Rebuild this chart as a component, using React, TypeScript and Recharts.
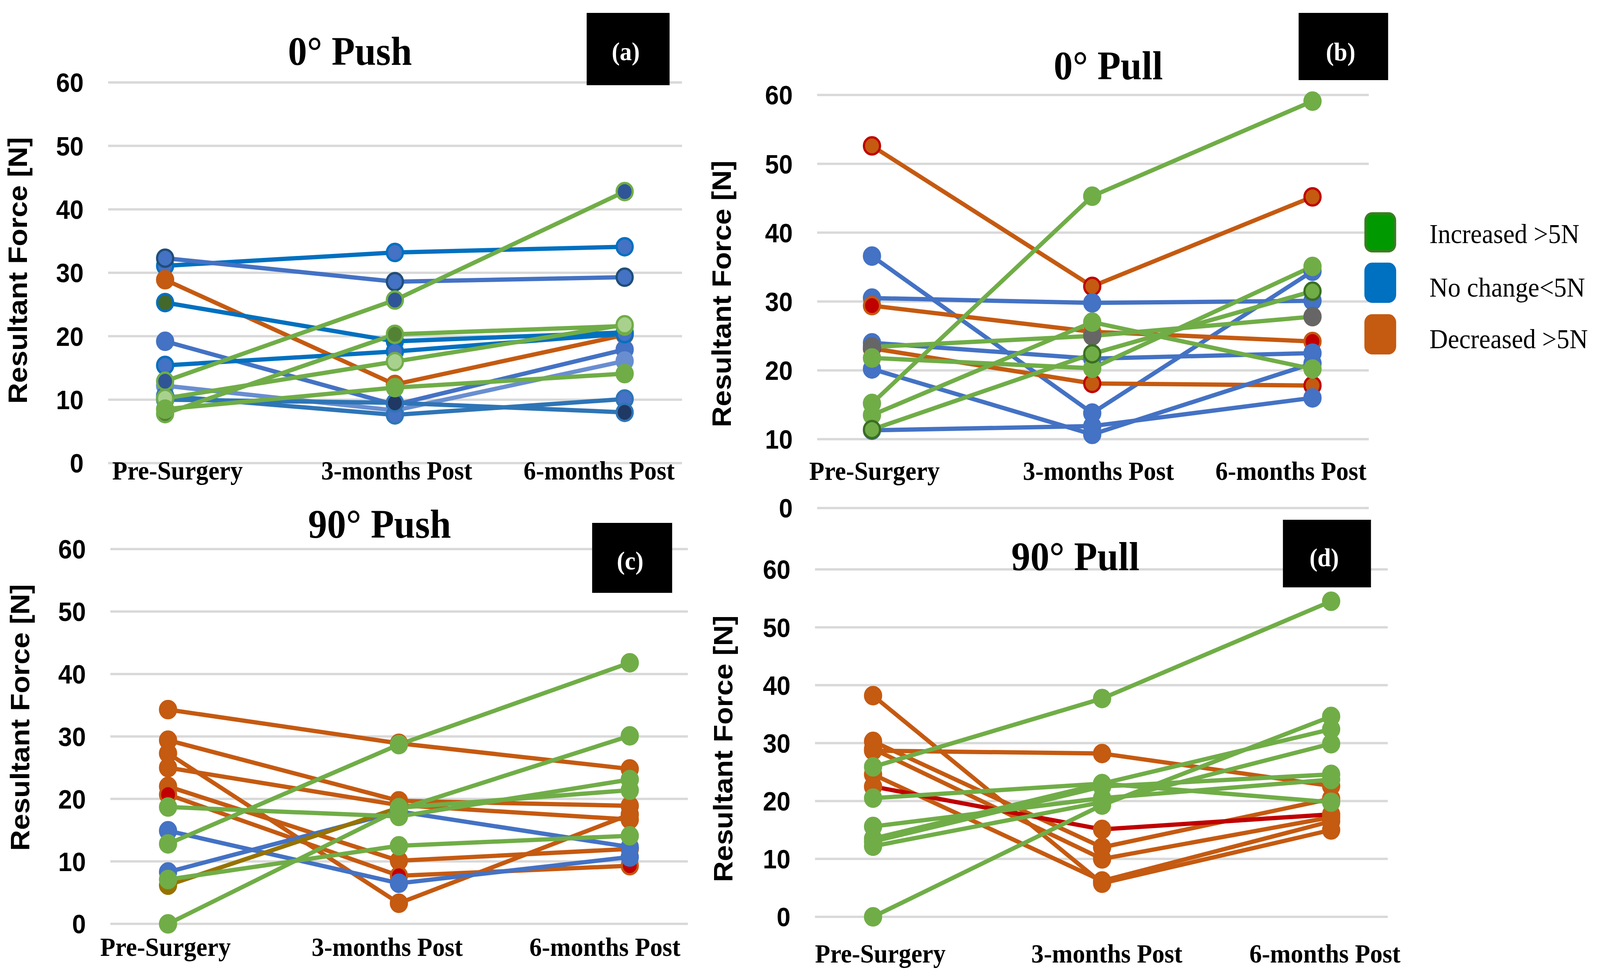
import React from 'react';
import { LineChart, Line, XAxis, YAxis, CartesianGrid } from 'recharts';

const W = 4380;
const H = 2500;

const CATEGORIES = ['Pre-Surgery', '3-months Post', '6-months Post'];
const Y_TICKS = [0, 10, 20, 30, 40, 50, 60];
const PANEL_TITLES = ['0° Push', '0° Pull', '90° Push', '90° Pull'];
const PANEL_TAGS = ['(a)', '(b)', '(c)', '(d)'];
const AXIS_TITLE = 'Resultant Force [N]';
const LEGEND_LABELS = ['Increased >5N', 'No change<5N', 'Decreased >5N'];

// one row per subject: [pre-surgery, 3 months, 6 months]
const PUSH_0 = [
  [31.1, 33.2, 34.1],
  [32.3, 28.6, 29.3],
  [28.9, 12.4, 20.2],
  [25.3, 19.2, 20.6],
  [19.2, 9.2, 17.9],
  [15.4, 17.6, 20.4],
  [12.2, 8.3, 16.1],
  [10.6, 7.6, 10.1],
  [10.0, 9.5, 8.0],
  [12.9, 25.7, 42.8],
  [7.8, 20.3, 21.6],
  [10.2, 16.0, 21.8],
  [8.5, 11.9, 14.1],
];

const PULL_0 = [
  [52.6, 32.2, 45.2],
  [36.6, 13.8, 34.4],
  [30.5, 29.8, 30.1],
  [29.4, 25.6, 24.2],
  [24.0, 21.7, 22.5],
  [23.2, 18.1, 17.8],
  [20.2, 10.7, 21.0],
  [11.3, 11.9, 16.0],
  [23.4, 25.0, 27.8],
  [21.8, 20.3, 35.1],
  [13.5, 27.0, 20.2],
  [11.4, 22.4, 31.5],
  [15.2, 45.3, 59.1],
];

const PUSH_90 = [
  [34.3, 28.9, 24.8],
  [29.4, 19.7, 18.9],
  [27.3, 3.3, 17.5],
  [25.0, 19.0, 16.7],
  [22.0, 10.1, 12.0],
  [20.7, 7.7, 9.3],
  [14.9, 6.5, 10.7],
  [8.3, 18.0, 12.3],
  [6.2, 18.6, null],
  [null, 18.6, 21.4],
  [18.7, 17.2, 23.1],
  [7.1, 12.5, 14.1],
  [12.8, 28.7, 41.8],
  [0, 18.3, 30.1],
];

const PULL_90 = [
  [38.2, 5.8, 15.0],
  [30.3, 12.0, 20.4],
  [28.7, 28.2, 22.6],
  [29.0, 10.0, 17.2],
  [24.6, 6.2, 16.5],
  [22.5, 15.1, 17.7],
  [20.5, 23.0, 19.8],
  [15.6, 20.5, 23.7],
  [13.5, 23.0, 32.4],
  [12.2, 19.8, 29.9],
  [13.0, 22.5, 24.6],
  [0, 19.3, 34.6],
  [25.9, 37.7, 54.5],
];

const BLUE = '#4472C4';
const BLUE_DK = '#0070C0';
const BLUE_MID = '#2E75B6';
const BLUE_LT = '#698ED0';
const NAVY = '#1F4E79';
const NAVY2 = '#203864';
const BLUE_FILL = '#2F5597';
const GREEN = '#70AD47';
const GREEN_LT = '#A9D18E';
const GREEN_DK = '#548235';
const GREEN_DK2 = '#43682B';
const GREEN_EDGE = '#3B6E22';
const ORANGE = '#C55A11';
const RED = '#C00000';
const GRAY = '#666666';
const OLIVE = '#977300';

type Look = { line: string; fill: string; edge: string };
const look = (line: string, fill: string = line, edge: string = fill): Look => ({ line, fill, edge });

const PUSH_0_LOOK = [
  look(BLUE_DK, BLUE, BLUE_DK),
  look(BLUE, BLUE, NAVY),
  look(ORANGE),
  look(BLUE_DK, GREEN_DK2, BLUE_DK),
  look(BLUE),
  look(BLUE_DK, BLUE, BLUE_DK),
  look(BLUE_LT),
  look(BLUE_MID, BLUE, BLUE_MID),
  look(BLUE_MID, NAVY2, BLUE_MID),
  look(GREEN, BLUE_FILL, GREEN),
  look(GREEN, GREEN_DK, GREEN),
  look(GREEN, GREEN_LT, GREEN),
  look(GREEN),
];

const PULL_0_LOOK = [
  look(ORANGE, ORANGE, RED),
  look(BLUE),
  look(BLUE),
  look(ORANGE, RED, ORANGE),
  look(BLUE),
  look(ORANGE, ORANGE, RED),
  look(BLUE),
  look(BLUE),
  look(GREEN, GRAY, GRAY),
  look(GREEN),
  look(GREEN),
  look(GREEN, GREEN, GREEN_EDGE),
  look(GREEN),
];

const PUSH_90_LOOK = [
  look(ORANGE),
  look(ORANGE),
  look(ORANGE),
  look(ORANGE),
  look(ORANGE),
  look(ORANGE, RED, ORANGE),
  look(BLUE),
  look(BLUE),
  look(OLIVE),
  look(GREEN),
  look(GREEN),
  look(GREEN),
  look(GREEN),
  look(GREEN),
];

const PULL_90_LOOK = [
  look(ORANGE),
  look(ORANGE),
  look(ORANGE),
  look(ORANGE),
  look(ORANGE),
  look(RED, ORANGE, ORANGE),
  look(GREEN),
  look(GREEN),
  look(GREEN),
  look(GREEN),
  look(GREEN),
  look(GREEN),
  look(GREEN),
];

const SANS = '"Liberation Sans", Arial, sans-serif';
const SERIF = '"Liberation Serif", "Times New Roman", serif';

type Layout = {
  left: number;
  right: number;
  top: number;
  bottom: number;
  padL: number;
  padR: number;
  labelBase: number;
  labelDx: number[];
};

const LAYOUTS: Layout[] = [
  { left: 296, right: 1867, top: 211, bottom: 1185, padL: 156, padR: 157, labelBase: 1227, labelDx: [34, 5, -70] },
  { left: 2237, right: 3747, top: 243, bottom: 1300, padL: 150, padR: 154, labelBase: 1228, labelDx: [7, 17, -59] },
  { left: 302, right: 1883, top: 1405, bottom: 2364, padL: 158, padR: 159, labelBase: 2446, labelDx: [-7, -32, -68] },
  { left: 2231, right: 3799, top: 1457, bottom: 2346, padL: 159, padR: 155, labelBase: 2463, labelDx: [20, 13, -17] },
];

const TITLE_POS = [[958, 166], [3034, 203], [1039, 1376], [2944, 1459]];
const TAG_BOX = [[1606, 33, 227, 185], [3555, 33, 245, 172], [1621, 1338, 219, 179], [3512, 1330, 241, 173]];
const TAG_TEXT = [[1713, 154], [3670, 155], [1725, 1457], [3625, 1449]];
const AXIS_TITLE_POS = [[48, 692], [1975, 752], [54, 1836], [1979, 1916]];

const LEGEND_FILL = ['#009900', '#0070C0', '#C55A11'];
const LEGEND_EDGE = ['#3B7D23', '#0070C0', '#C55A11'];
const LEGEND_BOX_Y = [543, 672, 804];
const LEGEND_TEXT_Y = [622, 759, 891];

const X_AXIS_H = 60;

function Panel({ values, looks, layout }: { values: (number | null)[][]; looks: Look[]; layout: Layout }) {
  const data = CATEGORIES.map((cat, i) => {
    const row: any = { cat };
    values.forEach((v, s) => {
      row['s' + s] = v[i];
    });
    return row;
  });

  return (
    <div style={{ position: 'absolute', left: 0, top: 0 }}>
      <LineChart
        width={W}
        height={H}
        data={data}
        margin={{ top: layout.top, left: 0, right: W - layout.right, bottom: H - layout.bottom - X_AXIS_H }}
      >
        <CartesianGrid horizontal vertical={false} stroke="#D9D9D9" strokeWidth={6} />
        <XAxis
          dataKey="cat"
          scale="point"
          padding={{ left: layout.padL, right: layout.padR }}
          axisLine={false}
          tickLine={false}
          height={X_AXIS_H}
          interval={0}
          tick={(p: any) => (
            <text
              x={p.x + layout.labelDx[p.index]}
              y={layout.labelBase}
              textAnchor="middle"
              fontFamily={SERIF}
              fontWeight="bold"
              fontSize={68}
              fill="#000"
            >
              {p.payload.value}
            </text>
          )}
        />
        <YAxis
          type="number"
          domain={[0, 60]}
          ticks={Y_TICKS}
          interval={0}
          width={layout.left}
          axisLine={false}
          tickLine={false}
          tick={(p: any) => (
            <text
              x={layout.left - 67}
              y={p.y}
              dy="0.36em"
              textAnchor="end"
              fontFamily={SANS}
              fontWeight="bold"
              fontSize={68}
              fill="#000"
            >
              {p.payload.value}
            </text>
          )}
        />
        {values.map((_, s) => (
          <Line
            key={s}
            dataKey={'s' + s}
            type="linear"
            stroke={looks[s].line}
            strokeWidth={11}
            dot={{ r: 22, fill: looks[s].fill, stroke: looks[s].edge, strokeWidth: 6 }}
            activeDot={false}
            connectNulls={false}
            isAnimationActive={false}
          />
        ))}
      </LineChart>
    </div>
  );
}

export default function App() {
  const panels = [
    { values: PUSH_0, looks: PUSH_0_LOOK },
    { values: PULL_0, looks: PULL_0_LOOK },
    { values: PUSH_90, looks: PUSH_90_LOOK },
    { values: PULL_90, looks: PULL_90_LOOK },
  ];

  // fit the fixed 4380x2500 drawing to the page's actual viewport
  const vw = typeof window !== 'undefined' && window.innerWidth ? window.innerWidth : W;
  const vh = typeof window !== 'undefined' && window.innerHeight ? window.innerHeight : H;
  const sx = vw / W;
  const sy = vh / H;

  return (
    <div style={{ position: 'absolute', left: 0, top: 0, width: vw, height: vh, overflow: 'hidden', background: '#fff' }}>
      <div
        style={{
          position: 'absolute',
          left: 0,
          top: 0,
          width: W,
          height: H,
          background: '#fff',
          transform: `scale(${sx}, ${sy})`,
          transformOrigin: '0 0',
        }}
      >
        {panels.map((p, i) => (
          <Panel key={i} values={p.values} looks={p.looks} layout={LAYOUTS[i]} />
        ))}

        {/* titles, tags, axis titles, legend */}
        <svg width={W} height={H} style={{ position: 'absolute', left: 0, top: 0 }}>
          {PANEL_TITLES.map((t, i) => (
            <text
              key={'t' + i}
              x={TITLE_POS[i][0]}
              y={TITLE_POS[i][1]}
              textAnchor="middle"
              fontFamily={SERIF}
              fontWeight="bold"
              fontSize={104}
              fill="#000"
            >
              {t}
            </text>
          ))}
          {PANEL_TAGS.map((t, i) => (
            <g key={'g' + i}>
              <rect x={TAG_BOX[i][0]} y={TAG_BOX[i][1]} width={TAG_BOX[i][2]} height={TAG_BOX[i][3]} fill="#000" />
              <text
                x={TAG_TEXT[i][0]}
                y={TAG_TEXT[i][1]}
                textAnchor="middle"
                fontFamily={SERIF}
                fontWeight="bold"
                fontSize={66}
                fill="#fff"
              >
                {t}
              </text>
            </g>
          ))}
          {AXIS_TITLE_POS.map(([x, y], i) => (
            <text
              key={'a' + i}
              x={x}
              y={y}
              transform={`rotate(-90 ${x} ${y})`}
              textAnchor="middle"
              dominantBaseline="central"
              fontFamily={SANS}
              fontWeight="bold"
              fontSize={74}
              fill="#000"
            >
              {AXIS_TITLE}
            </text>
          ))}
          {LEGEND_LABELS.map((label, i) => (
            <g key={'l' + i}>
              <rect
                x={3738}
                y={LEGEND_BOX_Y[i] + 3}
                width={81}
                height={97}
                rx={18}
                fill={LEGEND_FILL[i]}
                stroke={LEGEND_EDGE[i]}
                strokeWidth={6}
              />
              <text x={3913} y={LEGEND_TEXT_Y[i]} fontFamily={SERIF} fontSize={70} fill="#000">
                {label}
              </text>
            </g>
          ))}
        </svg>
      </div>
    </div>
  );
}
